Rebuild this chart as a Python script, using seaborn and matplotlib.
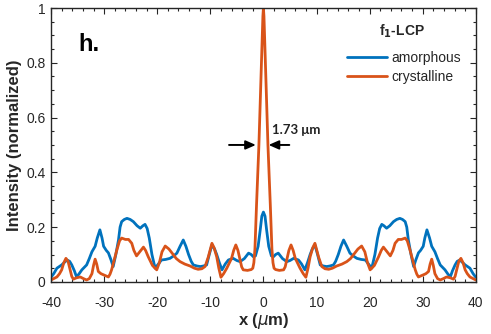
"""
Intensity profile across the focal plane of the f1-LCP metalens,
amorphous vs crystalline state (panel h).
"""

import matplotlib

matplotlib.use("Agg")
import matplotlib.pyplot as plt
import pandas as pd
import seaborn as sns


# Amorphous profile (x in um, normalized intensity)
AMORPHOUS_X = [
    -40.0, -39.5, -38.9, -38.0, -37.0, -36.5, -36.1, -35.6, -35.2, -34.7,
    -34.2, -33.3, -32.8, -32.3, -31.7, -31.3, -30.8, -30.4, -30.1, -29.6,
    -29.2, -28.7, -28.3, -27.8, -27.3, -27.0, -26.7, -26.2, -25.7, -25.1,
    -24.5, -23.8, -23.2, -22.7, -22.3, -21.9, -21.5, -21.0, -20.4, -20.0,
    -19.2, -18.4, -17.6, -16.9, -16.3, -15.7, -15.1, -14.6, -14.1, -13.6,
    -13.2, -12.5, -11.9, -11.3, -10.7, -10.2, -9.7, -9.2, -8.8, -8.3,
    -7.8, -7.2, -6.6, -5.7, -5.0, -4.4, -3.6, -2.8, -2.3, -1.9,
    -1.5, -1.0, -0.6, -0.3, 0.0,
    0.3, 0.6, 1.0, 1.5, 1.9, 2.3, 2.8, 3.6, 4.4, 5.0,
    5.7, 6.6, 7.2, 7.8, 8.3, 8.8, 9.2, 9.7, 10.2, 10.7,
    11.3, 11.9, 12.5, 13.2, 13.6, 14.1, 14.6, 15.1, 15.7, 16.3,
    16.9, 17.6, 18.4, 19.2, 20.0, 20.4, 21.0, 21.5, 21.9, 22.3,
    22.7, 23.2, 23.8, 24.5, 25.1, 25.7, 26.2, 26.7, 27.0, 27.3,
    27.8, 28.3, 28.7, 29.2, 29.6, 30.1, 30.4, 30.8, 31.3, 31.7,
    32.3, 32.8, 33.3, 34.2, 34.7, 35.2, 35.6, 36.1, 36.5, 37.0,
    38.0, 38.9, 39.5, 40.0,
]
AMORPHOUS_I = [
    0.017, 0.030, 0.050, 0.062, 0.080, 0.075, 0.062, 0.040, 0.018, 0.030,
    0.044, 0.062, 0.085, 0.110, 0.130, 0.160, 0.190, 0.160, 0.130, 0.115,
    0.106, 0.080, 0.056, 0.100, 0.153, 0.200, 0.220, 0.228, 0.232, 0.228,
    0.220, 0.205, 0.196, 0.205, 0.210, 0.195, 0.160, 0.100, 0.050, 0.060,
    0.080, 0.082, 0.086, 0.095, 0.105, 0.130, 0.153, 0.130, 0.100, 0.075,
    0.062, 0.058, 0.056, 0.058, 0.062, 0.100, 0.135, 0.120, 0.100, 0.070,
    0.044, 0.065, 0.080, 0.086, 0.078, 0.074, 0.085, 0.105, 0.100, 0.092,
    0.095, 0.130, 0.190, 0.240, 0.255,
    0.240, 0.190, 0.130, 0.095, 0.092, 0.100, 0.105, 0.085, 0.074, 0.078,
    0.086, 0.080, 0.065, 0.044, 0.070, 0.100, 0.120, 0.135, 0.100, 0.062,
    0.058, 0.056, 0.058, 0.062, 0.075, 0.100, 0.130, 0.153, 0.130, 0.105,
    0.095, 0.086, 0.082, 0.080, 0.060, 0.050, 0.100, 0.160, 0.195, 0.210,
    0.205, 0.196, 0.205, 0.220, 0.228, 0.232, 0.228, 0.220, 0.200, 0.153,
    0.100, 0.056, 0.080, 0.106, 0.115, 0.130, 0.160, 0.190, 0.160, 0.130,
    0.110, 0.085, 0.062, 0.044, 0.030, 0.018, 0.040, 0.062, 0.075, 0.080,
    0.062, 0.050, 0.030, 0.017,
]

# Crystalline profile
CRYSTALLINE_X = [
    -40.0, -39.5, -38.9, -38.4, -38.0, -37.6, -37.2, -36.8, -36.4, -36.1,
    -35.8, -35.2, -34.5, -33.9, -33.3, -32.8, -32.3, -32.0, -31.7, -31.4,
    -31.1, -30.6, -30.15, -29.7, -29.2, -28.9, -28.6, -28.1, -27.6, -27.1,
    -26.7, -26.0, -25.4, -24.8, -24.4, -23.9, -23.3, -22.6, -22.2, -21.7,
    -20.9, -20.1, -19.6, -19.1, -18.5, -17.8, -17.0, -16.4, -15.7, -14.8,
    -13.8, -13.0, -12.3, -11.6, -11.0, -10.4, -9.7, -9.3, -8.8, -8.4,
    -8.0, -7.5, -6.9, -6.4, -6.0, -5.6, -5.2, -4.8, -4.4, -4.1,
    -3.8, -3.0, -2.3, -2.0, -1.8, -1.6, -1.3, -0.85, -0.5, -0.25,
    -0.1, 0.0,
    0.1, 0.25, 0.5, 0.85, 1.3, 1.6, 1.8, 2.0, 2.3, 3.0,
    3.8, 4.1, 4.4, 4.8, 5.2, 5.6, 6.0, 6.4, 6.9, 7.5,
    8.0, 8.4, 8.8, 9.3, 9.7, 10.4, 11.0, 11.6, 12.3, 13.0,
    13.8, 14.8, 15.7, 16.4, 17.0, 17.8, 18.5, 19.1, 19.6, 20.1,
    20.9, 21.7, 22.2, 22.6, 23.3, 23.9, 24.4, 24.8, 25.4, 26.0,
    26.7, 27.1, 27.6, 28.1, 28.6, 28.9, 29.2, 29.7, 30.15, 30.6,
    31.1, 31.4, 31.7, 32.0, 32.3, 32.8, 33.3, 33.9, 34.5, 35.2,
    35.8, 36.1, 36.4, 36.8, 37.2, 37.6, 38.0, 38.4, 38.9, 39.5,
    40.0,
]
CRYSTALLINE_I = [
    0.007, 0.012, 0.018, 0.030, 0.044, 0.070, 0.086, 0.075, 0.044, 0.020,
    0.010, 0.015, 0.018, 0.012, 0.007, 0.012, 0.030, 0.060, 0.083, 0.065,
    0.038, 0.030, 0.026, 0.022, 0.018, 0.028, 0.044, 0.080, 0.117, 0.150,
    0.160, 0.155, 0.155, 0.141, 0.115, 0.095, 0.110, 0.127, 0.115, 0.092,
    0.060, 0.044, 0.070, 0.110, 0.131, 0.120, 0.100, 0.085, 0.074, 0.065,
    0.058, 0.050, 0.046, 0.048, 0.056, 0.090, 0.141, 0.125, 0.092, 0.050,
    0.017, 0.030, 0.050, 0.070, 0.086, 0.115, 0.135, 0.115, 0.080, 0.055,
    0.044, 0.042, 0.045, 0.050, 0.070, 0.120, 0.280, 0.500, 0.720, 0.880,
    0.970, 1.000,
    0.970, 0.880, 0.720, 0.500, 0.280, 0.120, 0.070, 0.050, 0.045, 0.042,
    0.044, 0.055, 0.080, 0.115, 0.135, 0.115, 0.086, 0.070, 0.050, 0.030,
    0.017, 0.050, 0.092, 0.125, 0.141, 0.090, 0.056, 0.048, 0.046, 0.050,
    0.058, 0.065, 0.074, 0.085, 0.100, 0.120, 0.131, 0.110, 0.070, 0.044,
    0.060, 0.092, 0.115, 0.127, 0.110, 0.095, 0.115, 0.141, 0.155, 0.155,
    0.160, 0.150, 0.117, 0.080, 0.044, 0.028, 0.018, 0.022, 0.026, 0.030,
    0.038, 0.065, 0.083, 0.060, 0.030, 0.012, 0.007, 0.012, 0.018, 0.015,
    0.010, 0.020, 0.044, 0.075, 0.086, 0.070, 0.044, 0.030, 0.018, 0.012,
    0.007,
]

SERIES_LABELS = ["amorphous", "crystalline"]
SERIES_COLORS = ["#0072BD", "#D95319"]
FWHM_LABEL = "1.73 μm"

sns.set_theme(style="ticks")
plt.rcParams["font.family"] = ["Liberation Sans", "DejaVu Sans"]
plt.rcParams["mathtext.fontset"] = "dejavusans"
plt.rcParams["axes.unicode_minus"] = False

df = pd.concat([
    pd.DataFrame({"x": AMORPHOUS_X, "I": AMORPHOUS_I, "state": SERIES_LABELS[0]}),
    pd.DataFrame({"x": CRYSTALLINE_X, "I": CRYSTALLINE_I, "state": SERIES_LABELS[1]}),
])

fig = plt.figure(figsize=(4.91, 3.34), dpi=100)
ax = fig.add_axes([0.104, 0.156, 0.865, 0.820])

for label, color in zip(SERIES_LABELS, SERIES_COLORS):
    part = df[df["state"] == label]
    sns.lineplot(data=part, x="x", y="I", ax=ax, color=color, linewidth=2.0,
                 label=label, sort=False, estimator=None)

ax.set_xlim(-40, 40)
ax.set_ylim(0, 1)
ax.set_xticks([-40, -30, -20, -10, 0, 10, 20, 30, 40])
ax.set_yticks([0, 0.2, 0.4, 0.6, 0.8, 1])
ax.set_yticklabels(["0", "0.2", "0.4", "0.6", "0.8", "1"])
ax.set_xticks(range(-40, 41, 2), minor=True)
ax.set_yticks([i * 0.05 for i in range(21)], minor=True)
ax.tick_params(which="both", direction="in", top=True, right=True,
               labelsize=10, labelcolor="#262626", color="#262626")
ax.tick_params(which="major", length=4, width=0.8)
ax.tick_params(which="minor", length=2.5, width=0.8)
ax.tick_params(axis="x", which="major", pad=10)
ax.tick_params(axis="y", which="major", pad=4)
for spine in ax.spines.values():
    spine.set_color("#262626")
    spine.set_linewidth(1.0)

ax.set_xlabel("x ($\\mu$m)", fontsize=12, fontweight="bold", labelpad=1)
ax.set_ylabel("Intensity (normalized)", fontsize=12, fontweight="bold", labelpad=3)

ax.text(0.064, 0.843, "h.", transform=ax.transAxes, fontsize=17,
        fontweight="bold", color="black")

# FWHM arrows
arrow = dict(arrowstyle="-|>,head_length=0.5,head_width=0.22", color="black", lw=1.4)
ax.annotate("", xy=(-0.9, 0.5), xytext=(-7.0, 0.5), arrowprops=arrow)
ax.annotate("", xy=(0.45, 0.5), xytext=(5.4, 0.5), arrowprops=arrow)
ax.text(1.6, 0.555, FWHM_LABEL, fontsize=9.5, fontweight="bold",
        family=["Lato", "DejaVu Sans"], va="center", color="#222222")

leg = ax.legend(loc="upper right", bbox_to_anchor=(0.985, 0.875),
                frameon=False, fontsize=10, handlelength=2.9,
                handletextpad=0.3, labelspacing=0.37, borderaxespad=0.2)
for text in leg.get_texts():
    text.set_color("#262626")
ax.text(0.827, 0.915, "f$_\\mathbf{1}$-LCP", transform=ax.transAxes,
        fontsize=10, fontweight="bold", ha="center", va="center", color="#262626")

fig.savefig("out.png", dpi=100)
